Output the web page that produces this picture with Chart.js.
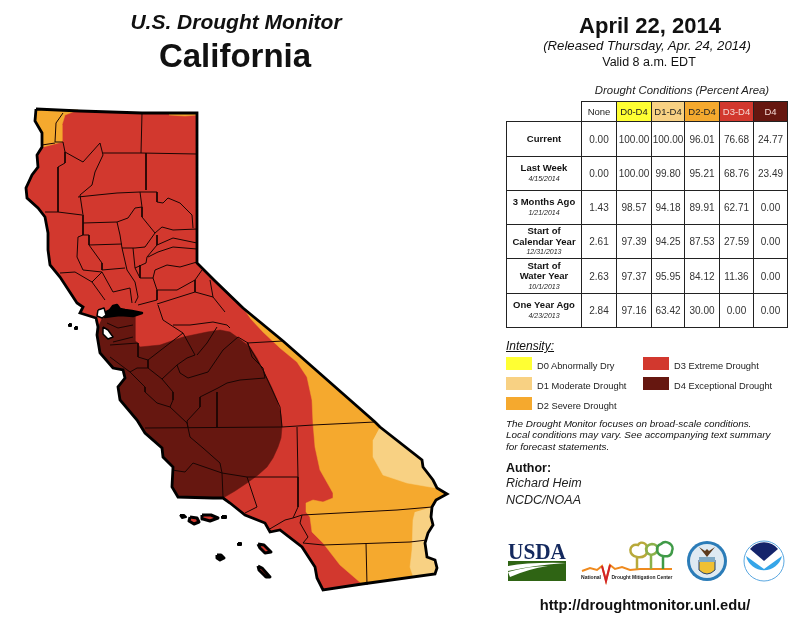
<!DOCTYPE html>
<html lang="en">
<head>
<meta charset="UTF-8">
<title>U.S. Drought Monitor California</title>
<script src="https://cdn.jsdelivr.net/npm/chart.js"></script>
<style>
    body { margin:0; background:#fff; font-family:"Liberation Sans", Arial, sans-serif; color:#111; }
    #page { position:relative; width:800px; height:625px; overflow:hidden; }
    #mapCanvas { position:absolute; left:0; top:0; }
    .t { position:absolute; white-space:nowrap; line-height:1; }
    .c { transform:translateX(-50%); }
    table { position:absolute; left:506px; top:101px; border-collapse:collapse; table-layout:fixed; width:281px; }
    td { border:1.5px solid #222; text-align:center; padding:0; font-size:10px; color:#333; overflow:hidden; white-space:nowrap; }
    td.blank { border:none; }
    td.head { font-size:9.5px; color:#222; }
    td.rowlabel { font-weight:bold; color:#111; line-height:10.5px; font-size:9.5px; }
    td.rowlabel i { display:block; font-weight:normal; font-size:7px; line-height:10px; color:#222; }
    .swatch { position:absolute; width:26px; height:13px; }
    svg { position:absolute; overflow:visible; }
</style>
</head>
<body>
<div id="page">
    <canvas id="mapCanvas" width="800" height="625"></canvas>

    <div class="t c" style="left:236px;top:10px;font:italic bold 21px 'Liberation Sans'">U.S. Drought Monitor</div>
    <div class="t c" style="left:235px;top:37px;font:bold 33px 'Liberation Sans'">California</div>
    <div class="t c" style="left:650px;top:13px;font:bold 22px 'Liberation Sans'">April 22, 2014</div>
    <div class="t c" style="left:647px;top:38px;font:italic 13.200px 'Liberation Sans'">(Released Thursday, Apr. 24, 2014)</div>
    <div class="t c" style="left:649px;top:55px;font:12.500px 'Liberation Sans'">Valid 8 a.m. EDT</div>
    <div class="t c" style="left:682px;top:84px;font:italic 11.400px 'Liberation Sans';color:#222">Drought Conditions (Percent Area)</div>

    <table id="statsTable"></table>

    <div class="t" style="left:506px;top:339px;font:italic 12px 'Liberation Sans';text-decoration:underline">Intensity:</div>
    <div id="legendBox"></div>

    <div class="t" style="left:506px;top:418px;font:italic 9.900px 'Liberation Sans'">The Drought Monitor focuses on broad-scale conditions.</div>
    <div class="t" style="left:506px;top:429px;font:italic 9.900px 'Liberation Sans'">Local conditions may vary. See accompanying text summary</div>
    <div class="t" style="left:506px;top:441px;font:italic 9.900px 'Liberation Sans'">for forecast statements.</div>

    <div class="t" style="left:506px;top:461px;font:bold 12.500px 'Liberation Sans'">Author:</div>
    <div class="t" style="left:506px;top:476px;font:italic 12.500px 'Liberation Sans';color:#222">Richard Heim</div>
    <div class="t" style="left:506px;top:493px;font:italic 12.500px 'Liberation Sans';color:#222">NCDC/NOAA</div>

    <!-- logos -->
    <svg style="left:0;top:0" width="800" height="625">
        <text x="537" y="559" text-anchor="middle" font-family="Liberation Serif" font-weight="bold" font-size="23" textLength="58" lengthAdjust="spacingAndGlyphs" fill="#14295e">USDA</text>
        <rect x="508" y="561" width="58" height="20" fill="#2f6414"/>
        <path d="M508 566 Q530 562 566 563 Q535 565 508 571Z" fill="#fff"/>
        <path d="M508 572 Q528 566 548 566 Q528 569 510 577Z" fill="#fff"/>

        <polyline points="582,571 590,568 597,570 602,566 606,581 610,565 615,569 622,567 630,570 640,569 672,569" fill="none" stroke="#ef8a1e" stroke-width="2"/>
        <polyline points="602,566 606,581 610,565" fill="none" stroke="#d2232a" stroke-width="2"/>
        <g fill="none" stroke-width="2.500">
            <path d="M637 569V557M637 557C628 556 628 543 638 545C641 540 649 544 646 549C649 555 643 558 637 557" stroke="#b8a93a"/>
            <path d="M651 569V555M651 555C644 553 645 545 652 544C659 544 660 553 651 555" stroke="#8bb04a"/>
            <path d="M663 569V556M663 556C656 555 655 546 661 544C666 539 675 545 672 551C672 556 667 557 663 556" stroke="#3f9a47"/>
        </g>
        <text x="591" y="579" text-anchor="middle" font-size="6" font-weight="bold" textLength="20" lengthAdjust="spacingAndGlyphs" fill="#222">National</text>
        <text x="642" y="579" text-anchor="middle" font-size="6" font-weight="bold" textLength="61" lengthAdjust="spacingAndGlyphs" fill="#222">Drought Mitigation Center</text>

        <circle cx="707" cy="561" r="20" fill="#2b7cb8"/>
        <circle cx="707" cy="561" r="17" fill="#dfeaf2"/>
        <path d="M699 560H715V570Q707 578 699 570Z" fill="#f0c033" stroke="#23406e"/>
        <rect x="699" y="557" width="16" height="5" fill="#7fa9c4"/>
        <path d="M707 557L699 547L705 551L707 549L709 551L715 547Z" fill="#5b3a1c"/>

        <circle cx="764" cy="561" r="20" fill="#fff" stroke="#5aa7e0" stroke-width="1"/>
        <path d="M750 549A18 18 0 0 1 778 549L764 561Z" fill="#14246b"/>
        <path d="M746 556L764 569L782 556A18.500 18.500 0 0 1 746 556Z" fill="#35a5e8"/>
    </svg>

    <div class="t c" style="left:645px;top:597px;font:bold 14.700px 'Liberation Sans'">http://droughtmonitor.unl.edu/</div>
</div>

<script>
// table values, percent area
const columnHeads = ["None", "D0-D4", "D1-D4", "D2-D4", "D3-D4", "D4"];
const rowLabels = [["Current"], ["Last Week"], ["3 Months Ago"], ["Start of", "Calendar Year"], ["Start of", "Water Year"], ["One Year Ago"]];
const rowDates = ["", "4/15/2014", "1/21/2014", "12/31/2013", "10/1/2013", "4/23/2013"];
const noneValues = [0.00, 0.00, 1.43, 2.61, 2.63, 2.84];
const d0Values = [100.00, 100.00, 98.57, 97.39, 97.37, 97.16];
const d1Values = [100.00, 99.80, 94.18, 94.25, 95.95, 63.42];
const d2Values = [96.01, 95.21, 89.91, 87.53, 84.12, 30.00];
const d3Values = [76.68, 68.76, 62.71, 27.59, 11.36, 0.00];
const d4Values = [24.77, 23.49, 0.00, 0.00, 0.00, 0.00];

const D0 = "#ffff33", D1 = "#f8d183", D2 = "#f5a92e", D3 = "#d2382e", D4 = "#661710";
const headColors = ["#fff", D0, D1, D2, D3, D4];
const headText = ["#222", "#222", "#222", "#222", "#f4d8d4", "#f4d8d4"];
const legendNames = ["D0 Abnormally Dry", "D1 Moderate Drought", "D2 Severe Drought", "D3 Extreme Drought", "D4 Exceptional Drought"];

// state border pieces (clockwise from the NW corner)
const northEdge = [[36,109],[80,111],[142,113],[197,113]];
const nevadaEdge = [[197,263],[215,281]];
const diagonalEdge = [[243,308],[283,341],[375,422]];
const d1NorthEdge = [[380,427],[422,460],[423,467],[433,480],[437,488]];
const coloradoTip = [[447,494],[436,500]];
const d1SouthEdge = [[432,507],[431,517],[433,525],[428,533],[425,543],[427,557],[435,560],[437,568],[435,574]];
const mexicoEdge = [[362,584],[323,590]];
const southCoast = [[317,578],[315,567],[302,547],[280,530],[270,532],[265,523],[245,515],[230,503]];
const centralCoast = [[223,498],[213,498],[178,497],[172,487],[173,467],[163,457],[162,448],[145,433],[137,420],[120,400],[118,387],[125,378],[123,370],[113,368],[100,353],[97,335],[98,327]];
const northCoast = [[96,318],[80,313],[83,307],[77,303],[60,277],[50,265],[48,250],[48,233],[45,217],[38,208],[27,198],[26,188],[32,175],[38,167],[37,155],[42,147]];
const nwCoast = [[42,133],[35,121]];

const stateOutline = [].concat(northEdge, nevadaEdge, diagonalEdge, d1NorthEdge, coloradoTip, d1SouthEdge, mexicoEdge, southCoast, centralCoast, northCoast, nwCoast, [northEdge[0]]);

// drought zone boundaries inside the state
const d2Boundary = [[362,584],[340,565],[323,543],[312,532],[310,517],[306,512],[306,503],[313,500],[323,502],[333,498],[333,493],[320,470],[315,447],[313,423],[312,400],[307,377],[297,362],[280,348],[263,332],[250,318]];
const d2NorthWest = [[36,109],[78,110],[65,115],[62,125],[62,142],[43,147],[42,147],[42,133],[35,121]];
const d2NorthSliver = [[169,113],[197,113],[197,115],[185,116],[169,115]];
const d1NorthBoundary = [[437,488],[430,487],[407,483],[383,475],[373,457],[373,440]];
const d1SouthBoundary = [[413,576],[410,567],[412,550],[413,520],[415,512]];
const d4Boundary = [[103,316],[135,314],[135,340],[140,347],[160,345],[183,337],[207,332],[220,330],[230,332],[237,337],[250,347],[257,358],[263,370],[272,388],[277,400],[281,415],[282,427],[281,438],[278,447],[273,458],[267,467],[258,475],[247,483],[235,491]];

// water and islands
const deltaWater = [[104,313],[110,310],[113,306],[117,305],[120,309],[125,310],[132,311],[142,313],[133,316],[120,315],[112,316],[105,317]];
const sanPabloBay = [[98,310],[104,308],[106,315],[102,318],[97,316]];
const sfBay = [[103,327],[108,330],[113,337],[108,339],[103,334]];
const santaRosaIsland = [[190,517],[197,518],[199,522],[194,524],[189,521]];
const santaCruzIsland = [[202,515],[211,515],[218,518],[210,521],[203,519]];
const sanNicolasIsland = [[217,555],[221,555],[224,558],[220,560],[217,558]];
const santaCatalinaIsland = [[258,544],[264,545],[271,552],[265,553],[260,548]];
const sanClementeIsland = [[258,566],[262,568],[270,577],[266,577],[259,570]];
const islets = [[[180,515],[184,515],[186,517],[182,518]], [[222,516],[226,516],[226,518],[222,518]], [[238,543],[241,543],[241,545],[238,545]], [[69,324],[71,324],[71,326],[69,326]], [[75,327],[77,327],[77,329],[75,329]]];

// county lines
const countyLines = [
    [[63,113],[56,123],[55,142],[63,142]],
    [[42,145],[55,143]],
    [[63,142],[65,152],[83,162],[100,143],[103,155],[95,172],[92,185],[80,195]],
    [[65,152],[65,163],[58,167],[58,212],[45,212]],
    [[58,212],[82,215]],
    [[80,195],[83,215],[83,235],[78,237],[77,257],[83,270],[102,272]],
    [[142,113],[141,153]],
    [[103,153],[141,153],[197,154]],
    [[146,153],[146,190]],
    [[78,197],[97,195],[117,193],[140,192],[157,192],[157,202],[163,203],[168,198],[180,203],[192,215],[193,228]],
    [[140,192],[142,207],[142,217],[155,233]],
    [[142,207],[135,208],[128,218],[117,222],[83,223]],
    [[117,222],[120,235],[122,248],[135,248],[145,247],[155,233]],
    [[155,233],[162,227],[173,230],[197,229]],
    [[157,235],[157,245],[147,257],[146,263],[135,268]],
    [[157,245],[173,238],[197,243]],
    [[197,249],[173,247],[158,252],[148,257]],
    [[133,248],[135,268],[140,278],[153,278]],
    [[122,248],[127,270],[135,282],[138,297],[135,303]],
    [[83,235],[89,235],[89,245],[122,244]],
    [[89,245],[102,263],[102,270],[125,268]],
    [[60,273],[75,272],[92,282],[102,272]],
    [[92,282],[105,300]],
    [[102,272],[113,292],[130,288],[132,303]],
    [[153,278],[155,270],[167,265],[180,267],[197,262]],
    [[140,265],[140,278]],
    [[153,278],[157,290],[157,300],[138,305]],
    [[157,290],[177,290],[195,280],[202,270]],
    [[157,304],[195,292],[213,297],[225,312]],
    [[195,280],[195,292]],
    [[213,297],[210,280]],
    [[158,305],[163,320],[183,333],[195,355]],
    [[173,325],[190,325],[213,322],[227,325],[230,328]],
    [[183,333],[148,360],[148,368],[162,379]],
    [[110,345],[138,343],[138,357],[148,360]],
    [[195,355],[187,358],[177,365],[162,379],[173,392],[173,400],[170,407]],
    [[177,365],[180,373],[188,378],[208,372],[223,350],[238,337],[248,343],[252,357],[263,368],[265,378],[240,380],[227,383],[218,388],[200,397],[200,407],[187,421]],
    [[217,327],[207,343],[197,355]],
    [[217,392],[217,428]],
    [[187,421],[188,428]],
    [[145,428],[282,427]],
    [[130,372],[145,387],[145,392],[157,403],[170,407],[187,423],[190,437],[203,448],[220,463],[222,473],[247,477],[298,477]],
    [[110,357],[130,372],[137,368],[148,368]],
    [[172,470],[185,472],[193,463],[222,473]],
    [[222,473],[223,497]],
    [[247,477],[257,507],[245,513]],
    [[247,343],[283,341]],
    [[247,343],[263,370],[280,407],[282,427]],
    [[282,427],[313,425],[375,422]],
    [[297,427],[298,477],[298,507],[293,518]],
    [[302,515],[397,510],[432,507]],
    [[293,518],[302,515],[300,523],[308,537],[303,543]],
    [[268,530],[285,520],[293,518]],
    [[303,543],[323,545],[410,542],[427,540]],
    [[366,543],[367,585]],
    [[107,323],[118,328],[133,325]],
    [[113,342],[133,337]]
];

function toPoints(list) {
    return list.map(p => ({x: p[0], y: p[1]}));
}
function zone(list, color) {
    return {data: toPoints(list), showLine: true, fill: "shape", backgroundColor: color, borderColor: color, borderWidth: 0.5, pointRadius: 0};
}
function stroke(list, color, width) {
    return {data: toPoints(list), showLine: true, fill: false, borderColor: color, borderWidth: width, pointRadius: 0};
}
function blob(list, color, width) {
    const closed = list.concat([list[0]]);
    return {data: toPoints(closed), showLine: true, fill: "shape", backgroundColor: color, borderColor: "#000", borderWidth: width, borderJoinStyle: "round", pointRadius: 0};
}

// painted bottom to top
const layers = [];
layers.push(zone(stateOutline, D3));
layers.push(zone(d2NorthWest, D2));
layers.push(zone(d2NorthSliver, D2));
layers.push(zone([].concat(diagonalEdge, d1NorthEdge, coloradoTip, d1SouthEdge, d2Boundary), D2));
layers.push(zone([].concat(d1NorthEdge, d1NorthBoundary), D1));
layers.push(zone([].concat(d1SouthEdge, d1SouthBoundary), D1));
layers.push(zone([].concat(d4Boundary, centralCoast), D4));
countyLines.forEach(line => layers.push(stroke(line, "#1a0503", 1)));
layers.push(stroke(stateOutline, "#000", 2.8));
layers.push(blob(deltaWater, "#000", 2.5));
layers.push(blob(sanPabloBay, "#fff", 1.5));
layers.push(blob(sfBay, "#fff", 1.5));
layers.push(blob(santaRosaIsland, D3, 3));
layers.push(blob(santaCruzIsland, D3, 3));
layers.push(blob(sanNicolasIsland, "#000", 3));
layers.push(blob(santaCatalinaIsland, D3, 3));
layers.push(blob(sanClementeIsland, D3, 3));
islets.forEach(item => layers.push(blob(item, "#000", 2)));
layers.forEach((set, i) => { set.order = layers.length - i; });

new Chart(document.getElementById("mapCanvas"), {
    type: "scatter",
    data: {datasets: layers},
    options: {
        responsive: false,
        animation: false,
        layout: {padding: 0},
        plugins: {legend: {display: false}, tooltip: {enabled: false}},
        scales: {
            x: {type: "linear", display: false, min: 0, max: 800},
            y: {type: "linear", display: false, reverse: true, min: 0, max: 625}
        }
    }
});

// stats table
const colWidths = [75, 35, 35, 33, 35, 34, 34];
const rowHeights = [20, 35, 34, 34, 34, 35, 34];
const valueColumns = [noneValues, d0Values, d1Values, d2Values, d3Values, d4Values];
let html = "<colgroup>" + colWidths.map(w => '<col style="width:' + w + 'px">').join("") + "</colgroup>";
html += '<tr style="height:' + rowHeights[0] + 'px"><td class="blank"></td>';
columnHeads.forEach((h, i) => {
    html += '<td class="head" style="background:' + headColors[i] + ';color:' + headText[i] + '">' + h + "</td>";
});
html += "</tr>";
rowLabels.forEach((label, r) => {
    html += '<tr style="height:' + rowHeights[r + 1] + 'px"><td class="rowlabel">' + label.join("<br>");
    if (rowDates[r]) html += "<i>" + rowDates[r] + "</i>";
    html += "</td>";
    valueColumns.forEach(col => { html += "<td>" + col[r].toFixed(2) + "</td>"; });
    html += "</tr>";
});
document.getElementById("statsTable").innerHTML = html;

// intensity legend
const legendColors = [D0, D1, D2, D3, D4];
const legendSpots = [[506,357], [506,377], [506,397], [643,357], [643,377]];
let legendHtml = "";
legendNames.forEach((name, i) => {
    const spot = legendSpots[i];
    legendHtml += '<div class="swatch" style="left:' + spot[0] + 'px;top:' + spot[1] + 'px;background:' + legendColors[i] + '"></div>';
    legendHtml += '<div class="t" style="left:' + (spot[0] + 31) + 'px;top:' + (spot[1] + 4) + 'px;font:9.3px \'Liberation Sans\';color:#222">' + name + "</div>";
});
document.getElementById("legendBox").innerHTML = legendHtml;
</script>
</body>
</html>
